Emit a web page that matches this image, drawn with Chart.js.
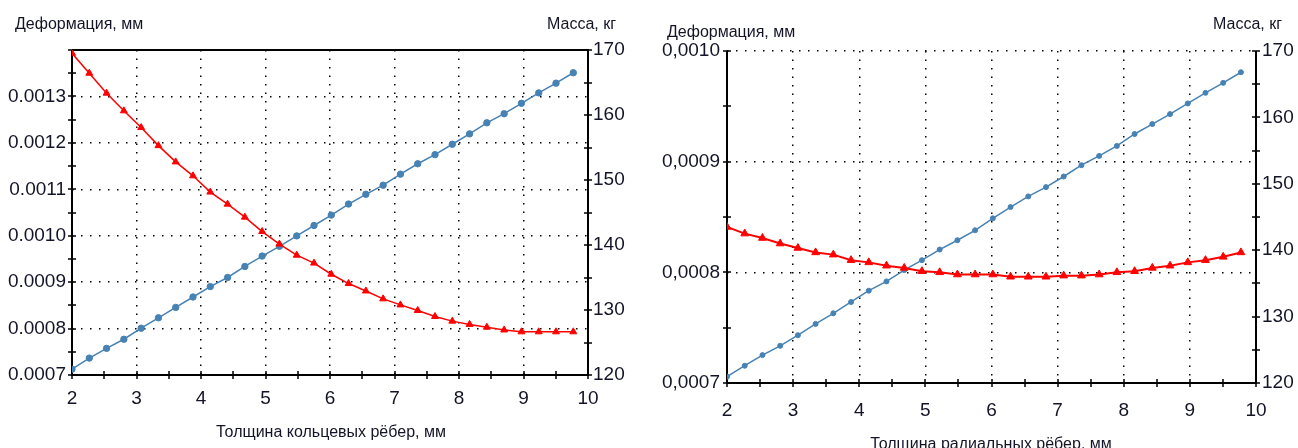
<!DOCTYPE html>
<html>
<head>
<meta charset="utf-8">
<script src="https://cdn.jsdelivr.net/npm/chart.js@4.4.1/dist/chart.umd.min.js"></script>
<style>
  body { margin: 0; background: #fff; }
  .box { position: absolute; top: 0; height: 448px; }
</style>
</head>
<body>
<div class="box" style="left:0;width:640px"><canvas id="ring" width="640" height="448"></canvas></div>
<div class="box" style="left:640px;width:658px"><canvas id="radial" width="658" height="448"></canvas></div>
<script>
// rib thickness, mm (same points on both charts)
const thickness = [2.000, 2.268, 2.536, 2.804, 3.072, 3.340, 3.608, 3.876, 4.144, 4.412,
  4.680, 4.948, 5.216, 5.484, 5.752, 6.020, 6.288, 6.556, 6.824, 7.092,
  7.360, 7.628, 7.896, 8.164, 8.432, 8.700, 8.968, 9.236, 9.504, 9.772];

// ring ribs
const ringDeform = [0.001393, 0.001350, 0.001307, 0.001269, 0.001233, 0.001194, 0.001159, 0.001129, 0.001094, 0.001068,
  0.001040, 0.001009, 0.000982, 0.000958, 0.000941, 0.000917, 0.000897, 0.000881, 0.000864, 0.000851,
  0.000839, 0.000826, 0.000816, 0.000809, 0.000803, 0.000797, 0.000793, 0.000793, 0.000793, 0.000793];
const ringMass = [120.9, 122.6, 124.1, 125.5, 127.2, 128.8, 130.4, 132.0, 133.6, 135.0,
  136.7, 138.3, 139.8, 141.4, 143.0, 144.6, 146.3, 147.8, 149.2, 150.9,
  152.5, 153.9, 155.5, 157.1, 158.8, 160.2, 161.8, 163.4, 164.9, 166.5];

// radial ribs
const radialDeform = [0.000841, 0.000835, 0.000831, 0.000826, 0.000822, 0.000818, 0.000816, 0.000811, 0.000809, 0.000806,
  0.000804, 0.000801, 0.000800, 0.000798, 0.000798, 0.000798, 0.000796, 0.000796, 0.000796, 0.000797,
  0.000797, 0.000798, 0.000800, 0.000801, 0.000804, 0.000806, 0.000809, 0.000811, 0.000814, 0.000818];
const radialMass = [120.95, 122.6, 124.2, 125.6, 127.2, 128.9, 130.5, 132.2, 133.9, 135.3,
  137.0, 138.5, 140.1, 141.5, 143.0, 144.8, 146.5, 148.1, 149.5, 151.1,
  152.8, 154.2, 155.7, 157.5, 159.0, 160.5, 162.1, 163.7, 165.2, 166.8];

const xTitleRing = 'Толщина кольцевых рёбер, мм';
const xTitleRadial = 'Толщина радиальных рёбер, мм';
const yTitle = 'Деформация, мм';
const y1Title = 'Масса, кг';

const RED = '#ff0000';
const BLUE = '#4682b4';
const TEXT = '#141428';

Chart.defaults.font.family = '"Liberation Sans", Arial, sans-serif';
Chart.defaults.color = TEXT;

function pts(ys) {
  return thickness.map((x, i) => ({ x: x, y: ys[i] }));
}

// axes lines, crossing tick marks and the horizontal titles
const frame = {
  id: 'frame',
  beforeDatasetsDraw(chart, args, o) {
    const { ctx, chartArea: a, scales } = chart;
    ctx.save();
    ctx.strokeStyle = '#000';
    ctx.lineWidth = 2;
    ctx.beginPath();
    ctx.moveTo(a.left, a.top);
    ctx.lineTo(a.left, a.bottom);
    ctx.lineTo(a.right, a.bottom);
    ctx.lineTo(a.right, a.top);
    if (o.topLine) ctx.lineTo(a.left, a.top);
    ctx.stroke();

    ctx.lineWidth = 1.5;
    ctx.beginPath();
    for (let i = 0; i <= 16; i++) {
      const px = Math.round(scales.x.getPixelForValue(2 + i * 0.5));
      ctx.moveTo(px, a.bottom - 4);
      ctx.lineTo(px, a.bottom + 4);
    }
    const yMax = scales.y.max;
    for (let v = 0.0007; v <= yMax + 1e-9; v += 0.00005) {
      const py = Math.round(scales.y.getPixelForValue(v));
      ctx.moveTo(a.left - 4, py);
      ctx.lineTo(a.left + 4, py);
    }
    for (let v = 120; v <= 170; v += 5) {
      const py = Math.round(scales.y1.getPixelForValue(v));
      ctx.moveTo(a.right - 4, py);
      ctx.lineTo(a.right + 4, py);
    }
    ctx.stroke();
    ctx.restore();
  },
  afterDraw(chart, args, o) {
    const { ctx } = chart;
    ctx.save();
    ctx.fillStyle = TEXT;
    ctx.font = '16px "Liberation Sans", Arial, sans-serif';
    ctx.textBaseline = 'alphabetic';
    ctx.textAlign = 'left';
    ctx.fillText(yTitle, o.yTitle[0], o.yTitle[1]);
    ctx.fillText(y1Title, o.y1Title[0], o.y1Title[1]);
    ctx.textAlign = 'center';
    ctx.fillText(o.xTitle, o.xTitlePos[0], o.xTitlePos[1]);
    ctx.restore();
  }
};

function makeChart(id, deform, mass, s) {
  const dec = (v) => s.comma ? v.toFixed(4).replace('.', ',') : v.toFixed(4);
  return new Chart(document.getElementById(id), {
    type: 'line',
    data: {
      datasets: [{
        label: yTitle,
        data: pts(deform),
        yAxisID: 'y',
        borderColor: RED,
        backgroundColor: RED,
        borderWidth: s.redLine,
        pointStyle: 'triangle',
        pointRadius: s.tri,
        pointBorderWidth: 1,
      }, {
        label: y1Title,
        data: pts(mass),
        yAxisID: 'y1',
        borderColor: BLUE,
        backgroundColor: BLUE,
        borderWidth: 1.5,
        pointStyle: 'circle',
        pointRadius: s.dot,
        pointBorderWidth: 1,
      }],
    },
    options: {
      responsive: false,
      animation: false,
      layout: { padding: { top: s.top, left: 0, right: 0, bottom: 0 } },
      plugins: {
        legend: { display: false },
        tooltip: { enabled: false },
        frame: s.frame,
      },
      scales: {
        x: {
          type: 'linear',
          min: 2,
          max: 10,
          afterFit: (sc) => { sc.height = s.xh; },
          ticks: { stepSize: 1, padding: s.xpad, font: { size: 19 }, color: TEXT },
          grid: { color: '#000', lineWidth: 1.5, drawTicks: false },
          border: { display: false, dash: [1.5, 7] },
        },
        y: {
          position: 'left',
          min: 0.0007,
          max: s.yMax,
          afterFit: (sc) => { sc.width = s.yw; },
          ticks: {
            stepSize: 0.0001,
            padding: s.ypad,
            font: { size: 19 },
            color: TEXT,
            callback: (v) => v > s.yLabelMax + 1e-9 ? '' : dec(v),
          },
          grid: { color: '#000', lineWidth: 1.5, drawTicks: false },
          border: { display: false, dash: [1.5, 7.5] },
        },
        y1: {
          position: 'right',
          min: 120,
          max: 170,
          afterFit: (sc) => { sc.width = s.y1w; },
          ticks: { stepSize: 10, padding: s.y1pad, font: { size: 19 }, color: TEXT },
          grid: { drawOnChartArea: false, drawTicks: false },
          border: { display: false },
        },
      },
    },
    plugins: [frame],
  });
}

makeChart('ring', ringDeform, ringMass, {
  top: 50, xh: 73, yw: 72, y1w: 52, xpad: 12, ypad: 6, y1pad: 5,
  yMax: 0.0014, yLabelMax: 0.0013, dot: 3.2, tri: 4, redLine: 1.5, comma: false,
  frame: { topLine: true, yTitle: [15, 29], y1Title: [547, 29], xTitle: xTitleRing, xTitlePos: [331, 437] },
});

makeChart('radial', radialDeform, radialMass, {
  top: 51, xh: 65, yw: 87, y1w: 42, xpad: 16, ypad: 7, y1pad: 6,
  yMax: 0.0010, yLabelMax: 0.0010, dot: 2.5, tri: 4.5, redLine: 2, comma: true,
  frame: { topLine: false, yTitle: [27, 37], y1Title: [573, 29], xTitle: xTitleRadial, xTitlePos: [351, 449] },
});
</script>
</body>
</html>
